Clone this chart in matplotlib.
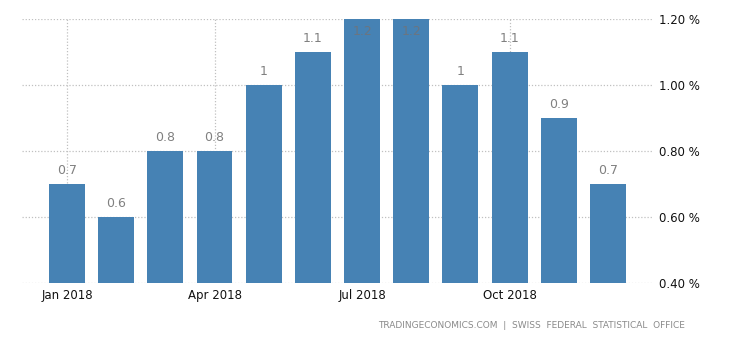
import matplotlib.pyplot as plt
import numpy as np

months = ["Jan", "Feb", "Mar", "Apr", "May", "Jun",
          "Jul", "Aug", "Sep", "Oct", "Nov", "Dec"]
values = [0.7, 0.6, 0.8, 0.8, 1.0, 1.1, 1.2, 1.2, 1.0, 1.1, 0.9, 0.7]
value_labels = ["0.7", "0.6", "0.8", "0.8", "1", "1.1",
                "1.2", "1.2", "1", "1.1", "0.9", "0.7"]
tick_idx = [0, 3, 6, 9]
tick_labels = ["Jan 2018", "Apr 2018", "Jul 2018", "Oct 2018"]
yticks = [0.4, 0.6, 0.8, 1.0, 1.2]

BAR = "#4682b4"
GRID = "#c0c0c0"

plt.rcParams["font.family"] = ["DejaVu Sans"]

fig = plt.figure(figsize=(7.3, 3.4), dpi=100)
ax = fig.add_axes([0.0301, 0.1676, 0.8644, 0.7765])

x = np.arange(len(values))
ax.bar(x, values, width=0.73, color=BAR, zorder=2)

ax.set_xlim(-0.915, len(values) - 1 + 0.915)
ax.set_ylim(0.4, 1.2)

for xi, v, lab in zip(x, values, value_labels):
    if v >= 1.2:
        ax.annotate(lab, (xi, v), xytext=(0, -4), textcoords="offset points",
                    ha="center", va="top", fontsize=9, color="#6b7580",
                    zorder=3, annotation_clip=False)
    else:
        ax.annotate(lab, (xi, v), xytext=(0, 5), textcoords="offset points",
                    ha="center", va="bottom", fontsize=9, color="#808080",
                    zorder=3, annotation_clip=False)

ax.set_xticks(tick_idx)
ax.set_xticklabels(tick_labels, fontsize=8.5, color="#111111")
ax.set_yticks(yticks)
ax.set_yticklabels([f"{t:.2f} %" for t in yticks], fontsize=8.5, color="#111111")
ax.yaxis.tick_right()
ax.tick_params(axis="both", length=0)
ax.tick_params(axis="y", pad=4)
ax.tick_params(axis="x", pad=4)

ax.grid(True, linestyle=(0, (1, 1.5)), color=GRID, linewidth=0.9, zorder=0)
for s in ax.spines.values():
    s.set_visible(False)

fig.text(0.938, 0.03, "TRADINGECONOMICS.COM  |  SWISS  FEDERAL  STATISTICAL  OFFICE",
         ha="right", va="bottom", fontsize=6.5, color="#8a8a8a")

fig.savefig("out.png", dpi=100)
